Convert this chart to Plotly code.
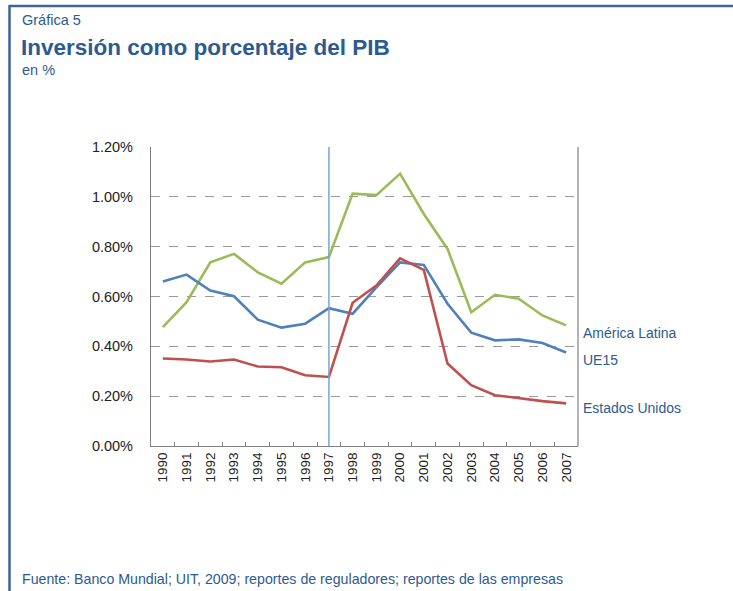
import plotly.graph_objects as go

years = [str(y) for y in range(1990, 2008)]
america_latina = [0.477, 0.577, 0.737, 0.771, 0.697, 0.651, 0.737, 0.758, 1.013, 1.007,
                  1.093, 0.931, 0.791, 0.537, 0.607, 0.591, 0.524, 0.484]
ue15 = [0.660, 0.688, 0.624, 0.601, 0.507, 0.475, 0.491, 0.553, 0.531, 0.637,
        0.737, 0.727, 0.571, 0.455, 0.424, 0.428, 0.413, 0.375]
estados_unidos = [0.351, 0.347, 0.339, 0.347, 0.319, 0.316, 0.284, 0.277, 0.575, 0.644,
                  0.753, 0.707, 0.331, 0.244, 0.204, 0.191, 0.180, 0.171]
y_ticks = [0, 0.2, 0.4, 0.6, 0.8, 1.0, 1.2]
y_tick_labels = ["0.00%", "0.20%", "0.40%", "0.60%", "0.80%", "1.00%", "1.20%"]
label_pos = {"América Latina": 0.452, "UE15": 0.344, "Estados Unidos": 0.152}

navy = "#2C5B92"
fontfam = "Liberation Sans, Arial, sans-serif"

W, H = 733, 591
L, R, T, B = 151, 155, 147, 145
pw, ph = W - L - R, H - T - B


def px(x):
    return (x - L) / pw


def py(y):
    return (H - B - y) / ph


fig = go.Figure()
for name, vals, col in [("América Latina", america_latina, "#9BBB59"),
                        ("UE15", ue15, "#4F81BD"),
                        ("Estados Unidos", estados_unidos, "#C0504D")]:
    fig.add_trace(go.Scatter(x=years, y=vals, mode="lines", name=name,
                             line=dict(color=col, width=2.6), showlegend=False))

# vertical marker at 1997
fig.add_shape(type="line", xref="x", yref="y", x0=7, x1=7, y0=0, y1=1.2,
              line=dict(color="#7BA3D6", width=1.5))
# right border of plot
fig.add_shape(type="line", xref="paper", yref="paper", x0=1, x1=1, y0=0, y1=1,
              line=dict(color="#808080", width=1.2))

for name, yv in label_pos.items():
    fig.add_annotation(text=name, xref="paper", yref="y", x=1, y=yv, xanchor="left",
                       xshift=3, showarrow=False,
                       font=dict(family=fontfam, size=14, color=navy))

fig.add_annotation(text="Gráfica 5", xref="paper", yref="paper", x=px(20), y=py(20),
                   showarrow=False, xanchor="left", yanchor="middle",
                   font=dict(family=fontfam, size=14.5, color=navy))
fig.add_annotation(text="<b>Inversión como porcentaje del PIB</b>", xref="paper", yref="paper",
                   x=px(19), y=py(47), showarrow=False, xanchor="left", yanchor="middle",
                   font=dict(family=fontfam, size=22.5, color=navy))
fig.add_annotation(text="en %", xref="paper", yref="paper", x=px(20), y=py(70),
                   showarrow=False, xanchor="left", yanchor="middle",
                   font=dict(family=fontfam, size=14.5, color=navy))
fig.add_annotation(text="Fuente: Banco Mundial; UIT, 2009; reportes de reguladores; reportes de las empresas",
                   xref="paper", yref="paper", x=px(20), y=py(579), showarrow=False,
                   xanchor="left", yanchor="middle",
                   font=dict(family=fontfam, size=14.2, color=navy))

# frame lines
fig.add_shape(type="line", xref="paper", yref="paper", x0=px(9), x1=px(733), y0=py(6), y1=py(6),
              line=dict(color="#3F6598", width=2.5))
fig.add_shape(type="line", xref="paper", yref="paper", x0=px(9.5), x1=px(9.5), y0=py(5), y1=py(591),
              line=dict(color="#3F6598", width=2.5))

fig.update_layout(
    width=W, height=H,
    margin=dict(l=L, r=R, t=T, b=B),
    paper_bgcolor="white", plot_bgcolor="white",
    font=dict(family=fontfam, size=12, color="#222222"),
    xaxis=dict(type="category", tickangle=-90, showgrid=False, showline=True,
               linecolor="#808080", linewidth=1.2, ticks="inside", ticklen=4,
               tickcolor="#808080", tickson="boundaries", tickfont=dict(size=13.5),
               range=[-0.5, 17.5], fixedrange=True),
    yaxis=dict(range=[0, 1.2], tickvals=y_ticks, ticktext=y_tick_labels,
               showgrid=True, gridcolor="#9A9A9A", griddash="dash", gridwidth=1,
               showline=True, linecolor="#808080", linewidth=1.2, zeroline=False,
               ticks="", tickfont=dict(size=14.5), ticklabelstandoff=14),
)

fig.write_html("out.html", config={"displayModeBar": False},
               post_script="document.body.style.margin='0';document.body.style.padding='0';")
